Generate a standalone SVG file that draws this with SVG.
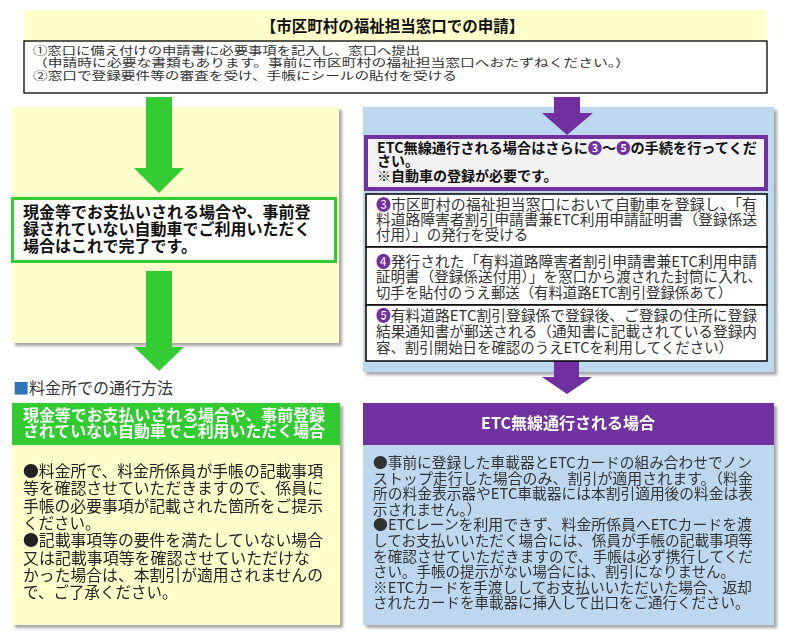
<svg xmlns="http://www.w3.org/2000/svg" width="786" height="638" viewBox="0 0 786 638">
<style>
text{font-family:"Noto Sans CJK JP","Noto Sans CJK SC",sans-serif;}
.t11{font-size:11px;fill:#333;}
.b16{font-size:16px;font-weight:bold;fill:#111;}
.b14{font-size:14px;font-weight:bold;fill:#111;}
.r145{font-size:14.5px;fill:#333;}
.r155{font-size:15.5px;fill:#222;}
.wh{font-size:15.5px;font-weight:bold;fill:#fff;}
.num{fill:#7030a0;}
.box{fill:#fff;stroke:#000;stroke-width:1.5;}
</style>
<defs>
<filter id="sh" x="-5%" y="-5%" width="112%" height="115%">
<feDropShadow dx="3" dy="3" stdDeviation="1.5" flood-color="#000" flood-opacity="0.35"/>
</filter>
</defs>

<g id="panel-left">
<rect x="12" y="107" width="327" height="236" fill="#ffffcc" filter="url(#sh)"/>
</g>
<g id="panel-right">
<rect x="363" y="107" width="411" height="265" fill="#bdd7ee" filter="url(#sh)"/>
</g>

<g id="connectors">
<polygon points="146,97 172,97 172,168 184,168 159,193 134,168 146,168" fill="#33cc33"/>
<polygon points="146,271 172,271 172,347 184,347 159,371 134,347 146,347" fill="#33cc33"/>
<polygon points="554,97 580,97 580,113 593,113 567,135 542,113 554,113" fill="#7030a0"/>
<polygon points="554,361 579,361 579,377 592,377 567,394 542,377 554,377" fill="#7030a0"/>
</g>

<g id="title">
<rect x="24" y="10" width="743" height="31" fill="#ffffcc"/>
<text x="392.5" y="32" text-anchor="middle" style="font-size:15.5px;font-weight:bold;fill:#111;">【市区町村の福祉担当窓口での申請】</text>
</g>

<g id="step12">
<rect x="24" y="41" width="743" height="52" class="box" style="stroke-width:1.3"/>
<text class="t11" x="33" y="54.5" textLength="387" lengthAdjust="spacingAndGlyphs">①窓口に備え付けの申請書に必要事項を記入し、窓口へ提出</text>
<text class="t11" x="33" y="67" textLength="597" lengthAdjust="spacingAndGlyphs">（申請時に必要な書類もあります。事前に市区町村の福祉担当窓口へおたずねください。）</text>
<text class="t11" x="33" y="79.5" textLength="424" lengthAdjust="spacingAndGlyphs">②窓口で登録要件等の審査を受け、手帳にシールの貼付を受ける</text>
</g>

<g id="complete-box">
<rect x="12.5" y="198.5" width="323" height="63" fill="#fff" stroke="#33cc33" stroke-width="3"/>
<text class="b16" x="23" y="218">現金等でお支払いされる場合や、事前登</text>
<text class="b16" x="23" y="235">録されていない自動車でご利用いただく</text>
<text class="b16" x="23" y="252">場合はこれで完了です。</text>
</g>

<g id="etc-note">
<rect x="366" y="137" width="400" height="52" fill="#f2f2f2" stroke="#7030a0" stroke-width="4"/>
<text class="b14" x="377" y="153" textLength="380" lengthAdjust="spacingAndGlyphs">ETC無線通行される場合はさらに<tspan class="num">❸</tspan>～<tspan class="num">❺</tspan>の手続を行ってくだ</text>
<text class="b14" x="377" y="165.5">さい。</text>
<text class="b14" x="377" y="181">※自動車の登録が必要です。</text>
</g>

<g id="step3">
<rect x="366" y="194" width="401" height="53" class="box"/>
<text class="r145" x="376" y="209.5" textLength="381" lengthAdjust="spacingAndGlyphs"><tspan class="num">❸</tspan>市区町村の福祉担当窓口において自動車を登録し、「有</text>
<text class="r145" x="376" y="224.5" textLength="381" lengthAdjust="spacingAndGlyphs">料道路障害者割引申請書兼ETC利用申請証明書（登録係送</text>
<text class="r145" x="376" y="239.5">付用）」の発行を受ける</text>
</g>

<g id="step4">
<rect x="366" y="247" width="401" height="58" class="box"/>
<text class="r145" x="376" y="267" textLength="381" lengthAdjust="spacingAndGlyphs"><tspan class="num">❹</tspan>発行された「有料道路障害者割引申請書兼ETC利用申請</text>
<text class="r145" x="376" y="282" textLength="386" lengthAdjust="spacingAndGlyphs">証明書（登録係送付用）」を窓口から渡された封筒に入れ、</text>
<text class="r145" x="376" y="298" textLength="356" lengthAdjust="spacingAndGlyphs">切手を貼付のうえ郵送（有料道路ETC割引登録係あて）</text>
</g>

<g id="step5">
<rect x="366" y="305" width="401" height="56" class="box"/>
<text class="r145" x="376" y="321" textLength="381" lengthAdjust="spacingAndGlyphs"><tspan class="num">❺</tspan>有料道路ETC割引登録係で登録後、ご登録の住所に登録</text>
<text class="r145" x="376" y="337" textLength="381" lengthAdjust="spacingAndGlyphs">結果通知書が郵送される（通知書に記載されている登録内</text>
<text class="r145" x="376" y="353" textLength="357" lengthAdjust="spacingAndGlyphs">容、割引開始日を確認のうえETCを利用してください）</text>
</g>

<g id="section-label">
<text x="13" y="394" textLength="160" lengthAdjust="spacingAndGlyphs" style="font-size:15.5px;fill:#333;"><tspan fill="#2e75b6">■</tspan>料金所での通行方法</text>
</g>

<g id="cash-method" filter="url(#sh)">
<rect x="12" y="403" width="328" height="222" fill="#ffffcc"/>
<rect x="12" y="403" width="328" height="42" fill="#33cc33"/>
<text class="wh" x="23" y="421" textLength="302" lengthAdjust="spacingAndGlyphs">現金等でお支払いされる場合や、事前登録</text>
<text class="wh" x="23" y="436.5" textLength="302" lengthAdjust="spacingAndGlyphs">されていない自動車でご利用いただく場合</text>
<text class="r155" x="23" y="477" textLength="300" lengthAdjust="spacingAndGlyphs">●料金所で、料金所係員が手帳の記載事項</text>
<text class="r155" x="23" y="494.3" textLength="300" lengthAdjust="spacingAndGlyphs">等を確認させていただきますので、係員に</text>
<text class="r155" x="23" y="511.6" textLength="300" lengthAdjust="spacingAndGlyphs">手帳の必要事項が記載された箇所をご提示</text>
<text class="r155" x="23" y="528.9">ください。</text>
<text class="r155" x="23" y="546.2" textLength="300" lengthAdjust="spacingAndGlyphs">●記載事項等の要件を満たしていない場合</text>
<text class="r155" x="23" y="563.5" textLength="287" lengthAdjust="spacingAndGlyphs">又は記載事項等を確認させていただけな</text>
<text class="r155" x="23" y="580.8" textLength="300" lengthAdjust="spacingAndGlyphs">かった場合は、本割引が適用されませんの</text>
<text class="r155" x="23" y="598.1">で、ご了承ください。</text>
</g>

<g id="etc-method" filter="url(#sh)">
<rect x="363" y="403" width="411" height="222" fill="#bdd7ee"/>
<rect x="363" y="403" width="411" height="42" fill="#7030a0"/>
<text x="568" y="428.5" text-anchor="middle" style="font-size:16px;font-weight:bold;fill:#fff;">ETC無線通行される場合</text>
<text class="r145" x="373" y="468" textLength="379" lengthAdjust="spacingAndGlyphs">●事前に登録した車載器とETCカードの組み合わせでノン</text>
<text class="r145" x="373" y="483.6" textLength="380" lengthAdjust="spacingAndGlyphs">ストップ走行した場合のみ、割引が適用されます。（料金</text>
<text class="r145" x="373" y="499.2" textLength="380" lengthAdjust="spacingAndGlyphs">所の料金表示器やETC車載器には本割引適用後の料金は表</text>
<text class="r145" x="373" y="514.8">示されません。）</text>
<text class="r145" x="373" y="530.4" textLength="379" lengthAdjust="spacingAndGlyphs">●ETCレーンを利用できず、料金所係員へETCカードを渡</text>
<text class="r145" x="373" y="546" textLength="380" lengthAdjust="spacingAndGlyphs">してお支払いいただく場合には、係員が手帳の記載事項等</text>
<text class="r145" x="373" y="561.6" textLength="380" lengthAdjust="spacingAndGlyphs">を確認させていただきますので、手帳は必ず携行してくだ</text>
<text class="r145" x="373" y="577.2">さい。手帳の提示がない場合には、割引になりません。</text>
<text class="r145" x="373" y="592.8" textLength="379" lengthAdjust="spacingAndGlyphs">※ETCカードを手渡ししてお支払いいただいた場合、返却</text>
<text class="r145" x="373" y="608.4">されたカードを車載器に挿入して出口をご通行ください。</text>
</g>
</svg>
